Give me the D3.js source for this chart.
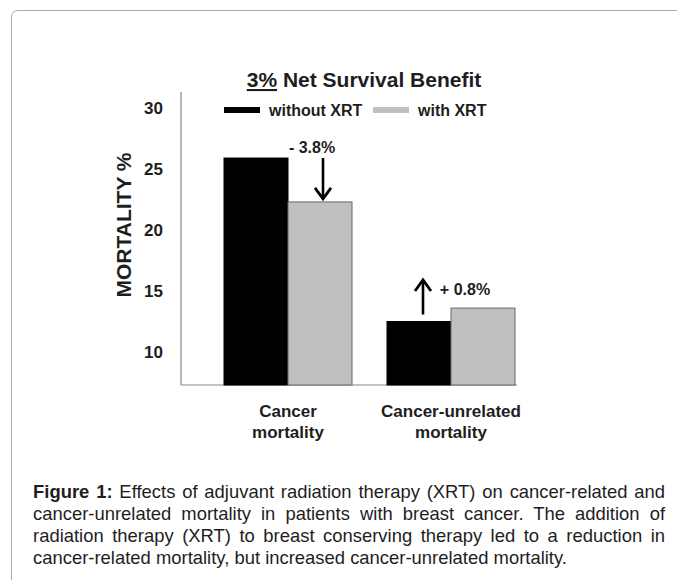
<!DOCTYPE html>
<html>
<head>
<meta charset="utf-8">
<script src="https://cdn.jsdelivr.net/npm/d3@7"></script>
<style>
  html, body { margin: 0; padding: 0; background: #fff; }
  svg { display: block; }
</style>
</head>
<body>
<svg id="canvas" width="677" height="580"></svg>
<script>
const categories = [["Cancer", "mortality"], ["Cancer-unrelated", "mortality"]];
const seriesNames = ["without XRT", "with XRT"];
const withoutXRT = [25.9, 12.5];
const withXRT = [22.3, 13.6];
const yTicks = [10, 15, 20, 25, 30];
const changes = ["- 3.8%", "+ 0.8%"];
const captionLines = [
    ["Figure 1:", " Effects of adjuvant radiation therapy (XRT) on cancer-related and"],
    ["", "cancer-unrelated mortality in patients with breast cancer. The addition of"],
    ["", "radiation therapy (XRT) to breast conserving therapy led to a reduction in"],
    ["", "cancer-related mortality, but increased cancer-unrelated mortality."]
];

const svg = d3.select("#canvas");
const font = "Liberation Sans, Arial, sans-serif";
const colors = ["#000000", "#c0c0c0"];
const textColor = "#1e1e1e";

// outer frame
svg.append("rect")
    .attr("x", 11.5).attr("y", 10.5)
    .attr("width", 720).attr("height", 620)
    .attr("rx", 6)
    .attr("fill", "none")
    .attr("stroke", "#a8a8a8");

const plotLeft = 181;
const y = d3.scaleLinear().domain([10, 30]).range([352, 108]);
const baseY = 385;
const x1 = d3.scaleBand().domain([0, 1]).range([0, 128]);

// axes lines
svg.append("line")
    .attr("x1", plotLeft).attr("x2", plotLeft)
    .attr("y1", 92).attr("y2", baseY)
    .attr("stroke", "#888").attr("stroke-width", 1.2);
svg.append("line")
    .attr("x1", plotLeft).attr("x2", 517)
    .attr("y1", baseY).attr("y2", baseY)
    .attr("stroke", "#888").attr("stroke-width", 1.2);

// y tick labels
svg.selectAll(".ytick")
    .data(yTicks)
    .enter()
    .append("text")
    .attr("class", "ytick")
    .attr("x", 163)
    .attr("y", (d) => y(d) + 6)
    .attr("text-anchor", "end")
    .attr("font-family", font)
    .attr("font-weight", "bold")
    .attr("font-size", 17)
    .attr("fill", textColor)
    .text((d) => d);

// y axis title
svg.append("text")
    .attr("transform", "translate(131,225) rotate(-90)")
    .attr("text-anchor", "middle")
    .attr("font-family", font)
    .attr("font-weight", "bold")
    .attr("font-size", 21)
    .attr("fill", textColor)
    .text("MORTALITY %");

// bars
const groupX = [224, 387];
const series = [withoutXRT, withXRT];
categories.forEach((c, i) => {
    series.forEach((vals, s) => {
        svg.append("rect")
            .attr("x", groupX[i] + x1(s))
            .attr("y", y(vals[i]))
            .attr("width", x1.bandwidth())
            .attr("height", baseY - y(vals[i]))
            .attr("fill", colors[s])
            .attr("stroke", s === 0 ? "#000" : "#666")
            .attr("stroke-width", 1);
    });
    const cx = groupX[i] + x1.bandwidth();
    svg.append("text")
        .attr("x", cx).attr("y", 417)
        .attr("text-anchor", "middle")
        .attr("font-family", font)
        .attr("font-weight", "bold")
        .attr("font-size", 17)
        .attr("fill", textColor)
        .selectAll("tspan")
        .data(c)
        .enter()
        .append("tspan")
        .attr("x", cx)
        .attr("dy", (d, k) => (k === 0 ? 0 : 21))
        .text((d) => d);
});

// title
const title = svg.append("text")
    .attr("x", 364).attr("y", 87)
    .attr("text-anchor", "middle")
    .attr("font-family", font)
    .attr("font-weight", "bold")
    .attr("font-size", 21)
    .attr("fill", textColor);
title.append("tspan").attr("text-decoration", "underline").text("3%");
title.append("tspan").text(" Net Survival Benefit");

// legend
const legendX = [224, 373];
seriesNames.forEach((name, s) => {
    svg.append("rect")
        .attr("x", legendX[s]).attr("y", 107)
        .attr("width", 36).attr("height", 6)
        .attr("fill", colors[s]);
    svg.append("text")
        .attr("x", legendX[s] + 45).attr("y", 116)
        .attr("font-family", font)
        .attr("font-weight", "bold")
        .attr("font-size", 16)
        .attr("fill", textColor)
        .text(name);
});

// change annotations
function arrow(xp, yFrom, yTo) {
    const dir = yTo > yFrom ? 1 : -1;
    svg.append("line")
        .attr("x1", xp).attr("x2", xp)
        .attr("y1", yFrom).attr("y2", yTo - dir * 2)
        .attr("stroke", "#000").attr("stroke-width", 2.6);
    svg.append("path")
        .attr("d", `M${xp - 8},${yTo - dir * 11} L${xp},${yTo} L${xp + 8},${yTo - dir * 11}`)
        .attr("fill", "none")
        .attr("stroke", "#000").attr("stroke-width", 2.8);
}
arrow(323, 158, y(withXRT[0]) - 3);
svg.append("text")
    .attr("x", 312).attr("y", 153)
    .attr("text-anchor", "middle")
    .attr("font-family", font).attr("font-weight", "bold")
    .attr("font-size", 16).attr("fill", textColor)
    .text(changes[0]);
arrow(423, y(withoutXRT[1]) - 7, 280);
svg.append("text")
    .attr("x", 465).attr("y", 295)
    .attr("text-anchor", "middle")
    .attr("font-family", font).attr("font-weight", "bold")
    .attr("font-size", 16).attr("fill", textColor)
    .text(changes[1]);

// caption: justified via word spacing
const capLeft = 33, capWidth = 632, lastWidth = 534;
const cap = svg.append("g");
const capTexts = captionLines.map((line, i) => {
    const t = cap.append("text")
        .attr("x", 0)
        .attr("y", 498 + i * 22)
        .attr("font-family", font)
        .attr("font-size", 17.5)
        .attr("fill", textColor);
    if (line[0]) t.append("tspan").attr("font-weight", "bold").text(line[0]);
    t.append("tspan").text(line[1]);
    return t;
});
const lastLen = capTexts[capTexts.length - 1].node().getComputedTextLength();
const sx = lastWidth / lastLen;
cap.attr("transform", `translate(${capLeft},0) scale(${sx},1)`);
capTexts.forEach((t, i) => {
    if (i === capTexts.length - 1) return;
    const len = t.node().getComputedTextLength();
    const spaces = (captionLines[i][0] + captionLines[i][1]).split(" ").length - 1;
    t.attr("word-spacing", Math.max(0, (capWidth / sx - len) / spaces));
});
</script>
</body>
</html>
